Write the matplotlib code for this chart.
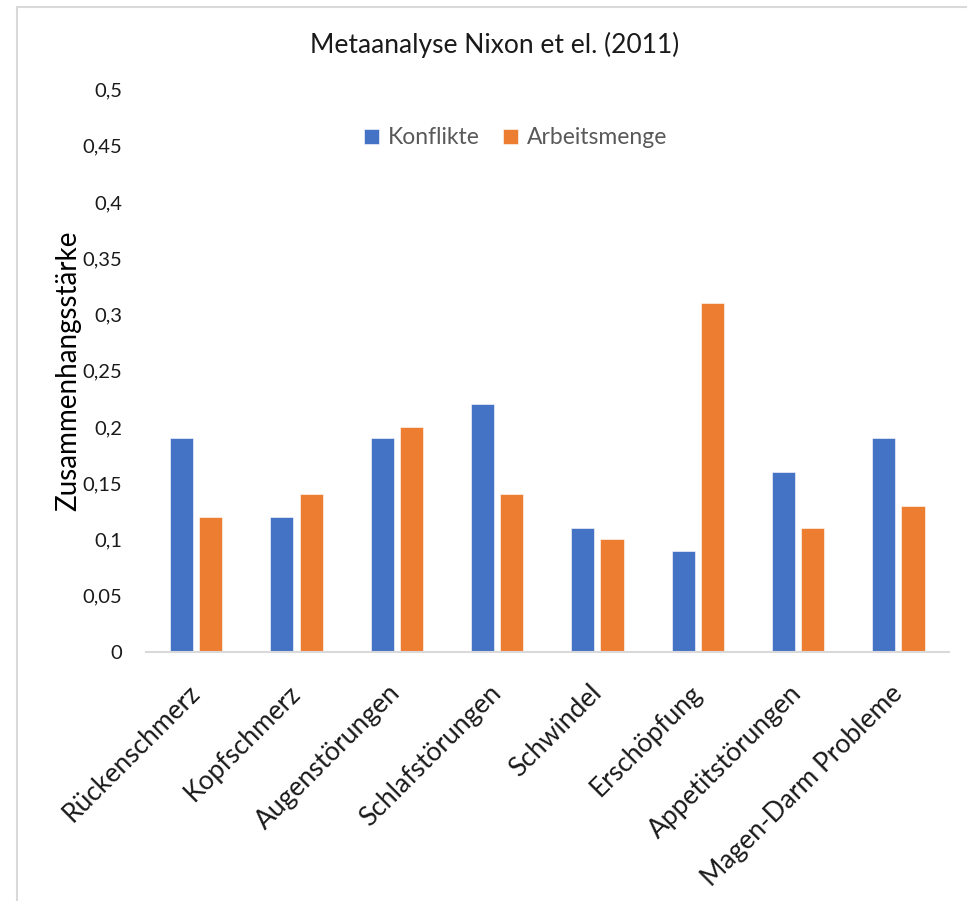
import numpy as np
import matplotlib
matplotlib.use('Agg')
from matplotlib import pyplot as plt
from matplotlib.patches import Rectangle

plt.rcParams['font.family'] = ['Lato', 'DejaVu Sans']

# data
categories = ['Rückenschmerz', 'Kopfschmerz', 'Augenstörungen', 'Schlafstörungen',
              'Schwindel', 'Erschöpfung', 'Appetitstörungen', 'Magen-Darm Probleme']
konflikte = [0.19, 0.12, 0.19, 0.22, 0.11, 0.09, 0.16, 0.19]
arbeitsmenge = [0.12, 0.14, 0.20, 0.14, 0.10, 0.31, 0.11, 0.13]
yticks = [0, 0.05, 0.1, 0.15, 0.2, 0.25, 0.3, 0.35, 0.4, 0.45, 0.5]

BLUE = '#4472C4'
ORANGE = '#ED7D31'

fig = plt.figure(figsize=(9.67, 9.01), dpi=100)
ax = fig.add_axes([0.151, 0.2767, 0.830, 0.6238])

x = np.arange(len(categories))
w = 0.23
ax.bar(x - 0.145, konflikte, width=w, color=BLUE, edgecolor='white', linewidth=0.4,
       label='Konflikte')
ax.bar(x + 0.145, arbeitsmenge, width=w, color=ORANGE, edgecolor='white', linewidth=0.4,
       label='Arbeitsmenge')

ax.set_xlim(-0.5, len(categories) - 0.5)
ax.set_ylim(0, 0.5)
ax.set_yticks(yticks)
ax.set_yticklabels([f'{v:g}'.replace('.', ',') for v in yticks])
ax.set_xticks(x)
ax.set_xticklabels(categories, rotation=45, ha='right', va='center', rotation_mode='anchor')

for s in ['top', 'right', 'left']:
    ax.spines[s].set_visible(False)
ax.spines['bottom'].set_color('#d9d9d9')
ax.spines['bottom'].set_linewidth(1.5)
ax.tick_params(axis='y', length=0, pad=17, labelsize=14.5, labelcolor='#1a1a1a')
ax.tick_params(axis='x', length=0, pad=27, labelsize=19, labelcolor='#1a1a1a')

ax.set_ylabel('Zusammenhangsstärke', fontsize=20, labelpad=1)

fig.text(0.511, 0.950, 'Metaanalyse Nixon et el. (2011)', ha='center', va='center',
         fontsize=19, color='#1a1a1a')

leg = ax.legend(loc='center', bbox_to_anchor=(0.533, 0.847), bbox_transform=fig.transFigure,
                ncol=2, frameon=False, fontsize=16.5, handlelength=0.65, handleheight=0.65,
                handletextpad=0.4, columnspacing=1.0)
for t in leg.get_texts():
    t.set_color('#595959')

# outer chart border
fig.patches.append(Rectangle((17 / 967, -0.05), 1.1, 1.05 - 7 / 901,
                             transform=fig.transFigure, fill=False,
                             edgecolor='#d9d9d9', linewidth=1.5))

fig.savefig('out.png', dpi=100)
